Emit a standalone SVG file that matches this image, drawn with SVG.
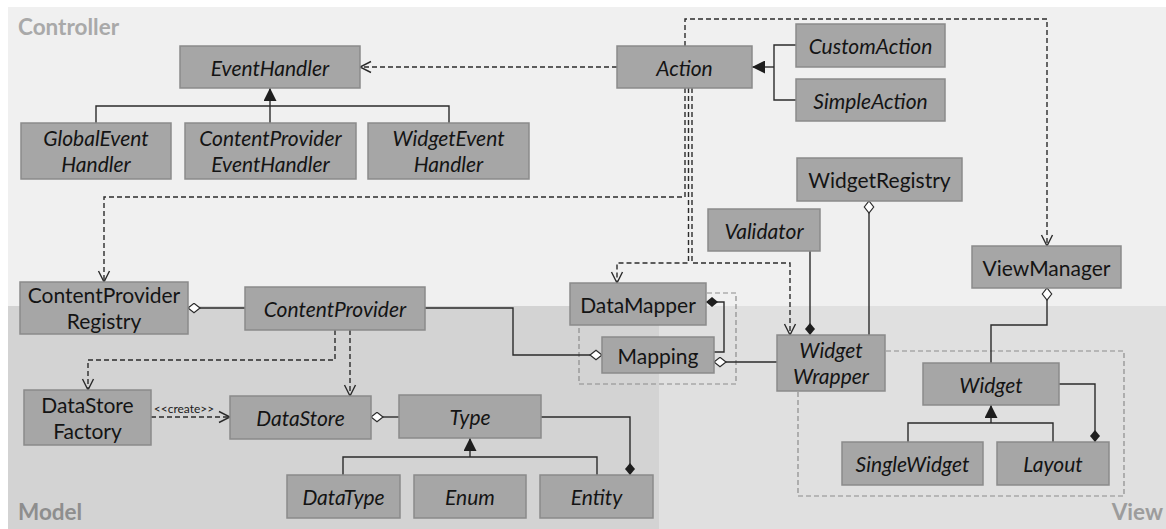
<svg xmlns="http://www.w3.org/2000/svg" width="1166" height="529" viewBox="0 0 1166 529">
  <style>
    .node rect { fill: #a6a6a6; stroke: #8a8a8a; stroke-width: 1.5; }
    .node text { font-family: Lato, "Liberation Sans", sans-serif; font-size: 21px; fill: #141414; text-anchor: middle; }
    .node.abstract text { font-style: italic; }
    .region-label { font-family: Lato, "Liberation Sans", sans-serif; font-weight: bold; font-size: 22.5px; }
    .line { fill: none; stroke: #2b2b2b; stroke-width: 1.4; }
    .dep { fill: none; stroke: #2b2b2b; stroke-width: 1.4; stroke-dasharray: 5 3; }
    .group { fill: none; stroke: #8c8c8c; stroke-width: 1.2; stroke-dasharray: 5 3; }
    .stereo { font-family: Lato, "Liberation Sans", sans-serif; font-size: 12px; fill: #1a1a1a; text-anchor: middle; }
  </style>
  <defs>
    <marker id="open-arrow" markerUnits="userSpaceOnUse" markerWidth="14" markerHeight="14" refX="12" refY="6.5" orient="auto" viewBox="0 0 14 13">
      <path d="M1,1 L12,6.5 L1,12" fill="none" stroke="#2b2b2b" stroke-width="1.4"/>
    </marker>
    <marker id="triangle" markerUnits="userSpaceOnUse" markerWidth="14" markerHeight="13" refX="13" refY="6.5" orient="auto" viewBox="0 0 14 13">
      <path d="M0,0 L13,6.5 L0,13 Z" fill="#1e1e1e"/>
    </marker>
    <marker id="diamond-open" markerUnits="userSpaceOnUse" markerWidth="14" markerHeight="12" refX="0.5" refY="5.5" orient="auto" viewBox="0 0 14 12">
      <path d="M0.5,5.5 L6.5,0.8 L12.5,5.5 L6.5,10.2 Z" fill="#ffffff" stroke="#2b2b2b" stroke-width="1.2"/>
    </marker>
    <marker id="diamond-filled" markerUnits="userSpaceOnUse" markerWidth="14" markerHeight="12" refX="0.5" refY="5.5" orient="auto" viewBox="0 0 14 12">
      <path d="M0.5,5.5 L6.5,0.5 L12.5,5.5 L6.5,10.5 Z" fill="#1e1e1e"/>
    </marker>
  </defs>

  <!-- layer regions -->
  <rect x="0" y="0" width="1166" height="529" fill="#ffffff"/>
  <rect x="8" y="7" width="1158" height="299" fill="#f0f0f0"/>
  <rect x="8" y="306" width="651" height="223" fill="#d3d3d3"/>
  <rect x="659" y="306" width="507" height="223" fill="#e0e0e0"/>
  <text class="region-label" x="18" y="35" fill="#a9a9a9">Controller</text>
  <text class="region-label" x="18" y="520" fill="#8e8e8e">Model</text>
  <text class="region-label" x="1163" y="520" fill="#9c9c9c" text-anchor="end">View</text>

  <!-- package groupings -->
  <rect class="group" x="579" y="293" width="157" height="91"/>
  <rect class="group" x="798" y="351" width="326" height="145"/>

  <g id="connectors">
    <!-- dependencies -->
    <path class="dep" d="M617,67 H360" marker-end="url(#open-arrow)"/>
    <path class="dep" d="M685,46 V19 H1047 V246" marker-end="url(#open-arrow)"/>
    <path class="dep" d="M685,88 V197 H104 V282" marker-end="url(#open-arrow)"/>
    <path class="dep" d="M688.5,88 V263 H617 V283" marker-end="url(#open-arrow)"/>
    <path class="dep" d="M692,88 V263 H790 V335" marker-end="url(#open-arrow)"/>
    <path class="dep" d="M335,330 V360 H88 V390" marker-end="url(#open-arrow)"/>
    <path class="dep" d="M350,330 V396" marker-end="url(#open-arrow)"/>
    <path class="dep" d="M151,417 H230" marker-end="url(#open-arrow)"/>
    <text class="stereo" x="184" y="413">&lt;&lt;create&gt;&gt;</text>

    <!-- generalizations -->
    <path class="line" d="M96,123 V106 H449 V123"/>
    <path class="line" d="M270,123 V88" marker-end="url(#triangle)"/>
    <path class="line" d="M796,45 H774 V100 H796"/>
    <path class="line" d="M774,67 H752" marker-end="url(#triangle)"/>
    <path class="line" d="M908,442 V423 H1053 V442"/>
    <path class="line" d="M991,423 V405" marker-end="url(#triangle)"/>
    <path class="line" d="M343,475 V457 H597 V475"/>
    <path class="line" d="M470,457 V438" marker-end="url(#triangle)"/>

    <!-- aggregations -->
    <path class="line" d="M188,308 H245" marker-start="url(#diamond-open)"/>
    <path class="line" d="M602,355 H513 V308 H425" marker-start="url(#diamond-open)"/>
    <path class="line" d="M714,362 H777" marker-start="url(#diamond-open)"/>
    <path class="line" d="M869,201 V335" marker-start="url(#diamond-open)"/>
    <path class="line" d="M1047,288 V325 H991 V363" marker-start="url(#diamond-open)"/>
    <path class="line" d="M371,417 H399" marker-start="url(#diamond-open)"/>

    <!-- compositions -->
    <path class="line" d="M706,302 H724 V352 H714" marker-start="url(#diamond-filled)"/>
    <path class="line" d="M810,335 V251" marker-start="url(#diamond-filled)"/>
    <path class="line" d="M1095,442 V384 H1059" marker-start="url(#diamond-filled)"/>
    <path class="line" d="M630,475 V417 H541" marker-start="url(#diamond-filled)"/>
  </g>

  <!-- controller -->
  <g id="eventHandler" class="node abstract"><rect x="180" y="46" width="180" height="42"/><text x="270" y="75.5">EventHandler</text></g>
  <g id="globalEventHandler" class="node abstract"><rect x="21" y="123" width="150" height="56"/><text x="96" y="145.5">GlobalEvent</text><text x="96" y="171.5">Handler</text></g>
  <g id="contentProviderEventHandler" class="node abstract"><rect x="185" y="123" width="171" height="56"/><text x="270.5" y="145.5">ContentProvider</text><text x="270.5" y="171.5">EventHandler</text></g>
  <g id="widgetEventHandler" class="node abstract"><rect x="368" y="123" width="161" height="56"/><text x="448.5" y="145.5">WidgetEvent</text><text x="448.5" y="171.5">Handler</text></g>
  <g id="action" class="node abstract"><rect x="617" y="46" width="135" height="42"/><text x="684.5" y="75.5">Action</text></g>
  <g id="customAction" class="node abstract"><rect x="796" y="24" width="149" height="43"/><text x="870.5" y="53.5">CustomAction</text></g>
  <g id="simpleAction" class="node abstract"><rect x="796" y="79" width="149" height="42"/><text x="870.5" y="108.5">SimpleAction</text></g>
  <g id="widgetRegistry" class="node"><rect x="797" y="158" width="165" height="43"/><text x="879.5" y="187.5">WidgetRegistry</text></g>
  <g id="validator" class="node abstract"><rect x="708" y="209" width="112" height="42"/><text x="764" y="238.5">Validator</text></g>
  <g id="viewManager" class="node"><rect x="972" y="246" width="149" height="42"/><text x="1046.5" y="275.5">ViewManager</text></g>
  <g id="contentProviderRegistry" class="node"><rect x="20" y="282" width="168" height="52"/><text x="104" y="302.5">ContentProvider</text><text x="104" y="328.5">Registry</text></g>

  <!-- model -->
  <g id="contentProvider" class="node abstract"><rect x="245" y="287" width="180" height="43"/><text x="335" y="316.5">ContentProvider</text></g>
  <g id="dataStoreFactory" class="node"><rect x="24" y="390" width="127" height="55"/><text x="87.5" y="412.5">DataStore</text><text x="87.5" y="438.5">Factory</text></g>
  <g id="dataStore" class="node abstract"><rect x="230" y="396" width="141" height="43"/><text x="300.5" y="425.5">DataStore</text></g>
  <g id="type" class="node abstract"><rect x="399" y="395" width="142" height="43"/><text x="470" y="424.5">Type</text></g>
  <g id="dataType" class="node abstract"><rect x="287" y="475" width="113" height="43"/><text x="343.5" y="504.5">DataType</text></g>
  <g id="enum" class="node abstract"><rect x="414" y="475" width="112" height="43"/><text x="470" y="504.5">Enum</text></g>
  <g id="entity" class="node abstract"><rect x="540" y="475" width="113" height="43"/><text x="596.5" y="504.5">Entity</text></g>
  <g id="dataMapper" class="node"><rect x="570" y="283" width="136" height="42"/><text x="638" y="312.5">DataMapper</text></g>
  <g id="mapping" class="node"><rect x="602" y="337" width="112" height="36"/><text x="658" y="363.5">Mapping</text></g>

  <!-- view -->
  <g id="widgetWrapper" class="node abstract"><rect x="777" y="335" width="108" height="56"/><text x="831" y="357.5">Widget</text><text x="831" y="383.5">Wrapper</text></g>
  <g id="widget" class="node abstract"><rect x="923" y="363" width="136" height="42"/><text x="991" y="392.5">Widget</text></g>
  <g id="singleWidget" class="node abstract"><rect x="842" y="442" width="141" height="43"/><text x="912.5" y="471.5">SingleWidget</text></g>
  <g id="layout" class="node abstract"><rect x="997" y="442" width="112" height="43"/><text x="1053" y="471.5">Layout</text></g>
</svg>
